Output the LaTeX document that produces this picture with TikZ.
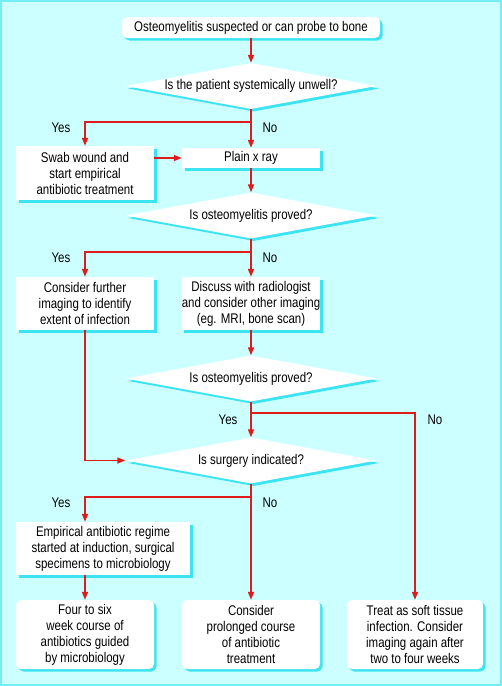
\documentclass[tikz,border=0pt]{standalone}
\usepackage{fontspec}
\setmainfont{Liberation Sans}[FakeStretch=0.82]
\usepackage{tikz}
\usetikzlibrary{positioning, shapes, arrows.meta, shadows}

\definecolor{panelbg}{RGB}{204,255,255}
\definecolor{shadowcyan}{RGB}{60,228,242}
\definecolor{flowred}{RGB}{222,28,28}

\begin{document}
\begin{tikzpicture}[
        x=1pt, y=-1pt,
        every node/.style={align=center, inner sep=0pt, font=\fontsize{14}{16}\selectfont},
        box/.style={rectangle, fill=white, minimum width=138pt,
            drop shadow={shadow xshift=2.5pt, shadow yshift=-2.5pt, fill=shadowcyan, opacity=1}},
        roundbox/.style={box, rounded corners=5pt},
        decision/.style={diamond, aspect=5.5, fill=white, minimum width=251pt, minimum height=46pt,
            drop shadow={shadow xshift=2.5pt, shadow yshift=-2.5pt, fill=shadowcyan, opacity=1}},
        arrow/.style={-{Triangle[length=8pt, width=6pt]}, flowred, line width=1.6pt},
        answer/.style={fill=none}
    ]

    % Panel
    \useasboundingbox (0,0) rectangle (502,686);
    \draw[draw=shadowcyan!70, line width=2pt, fill=panelbg] (1,1) rectangle (501,685);

    % Start and first question
    \node[roundbox, minimum width=258pt, minimum height=21pt] (start) at (251,27.5) {Osteomyelitis suspected or can probe to bone};
    \node[decision] (unwell) at (251,86) {Is the patient systemically unwell?};

    % Swab and x ray
    \node[box, minimum height=54pt] (swab) at (85,173) {Swab wound and\\start empirical\\antibiotic treatment};
    \node[box, minimum height=20pt] (xray) at (251,158) {Plain x ray};
    \node[decision] (proved) at (251,215.5) {Is osteomyelitis proved?};

    % Further imaging
    \node[box, minimum height=53pt] (further) at (85,303.5) {Consider further\\imaging to identify\\extent of infection};
    \node[box, minimum height=53pt] (discuss) at (251,303.5) {Discuss with radiologist\\and consider other imaging\\(eg. MRI, bone scan)};
    \node[decision] (provedagain) at (251,378.5) {Is osteomyelitis proved?};

    % Surgery
    \node[decision] (surgery) at (251,460.5) {Is surgery indicated?};
    \node[box, minimum width=174pt, minimum height=53pt] (regime) at (103,548.5) {Empirical antibiotic regime\\started at induction, surgical\\specimens to microbiology};

    % Outcomes
    \node[roundbox, minimum height=69pt] (sixweek) at (85,634.5) {Four to six\\week course of\\antibiotics guided\\by microbiology};
    \node[roundbox, minimum height=69pt] (prolonged) at (251,634.5) {Consider\\prolonged course\\of antibiotic\\treatment};
    \node[roundbox, minimum width=136pt, minimum height=69pt] (softtissue) at (415,634.5) {Treat as soft tissue\\infection. Consider\\imaging again after\\two to four weeks};

    % Branch points
    \coordinate (forkunwell) at (251,122);
    \coordinate (forkproved) at (251,252);
    \coordinate (forkagain) at (251,413);
    \coordinate (forksurgery) at (251,497);

    % Yes / No
    \node[answer] (yesunwell) at (61,128) {Yes};
    \node[answer] (nounwell) at (270,128) {No};
    \node[answer] (yesproved) at (61,258) {Yes};
    \node[answer] (noproved) at (270,258) {No};
    \node[answer] (yesagain) at (228,420) {Yes};
    \node[answer] (noagain) at (435,420) {No};
    \node[answer] (yessurgery) at (61,503) {Yes};
    \node[answer] (nosurgery) at (270,503) {No};

    % Arrows
    \draw[arrow] (start) -- (unwell);
    \draw[arrow] (unwell.south) -- (forkunwell) -| (swab.north);
    \draw[arrow] (unwell.south) -- (xray.north);
    \draw[arrow] (swab.east |- xray) -- (xray.west);
    \draw[arrow] (xray) -- (proved);
    \draw[arrow] (proved.south) -- (forkproved) -| (further.north);
    \draw[arrow] (proved.south) -- (discuss.north);
    \draw[arrow] (discuss) -- (provedagain);
    \draw[arrow] (provedagain.south) -- (surgery.north);
    \draw[arrow] (forkagain) -| (softtissue.north);
    \draw[arrow] (further.south) |- (surgery.west);
    \draw[arrow] (surgery.south) -- (forksurgery) -| (regime.north -| sixweek.north);
    \draw[arrow] (surgery.south) -- (prolonged.north);
    \draw[arrow] (regime.south -| sixweek.north) -- (sixweek.north);

\end{tikzpicture}
\end{document}
